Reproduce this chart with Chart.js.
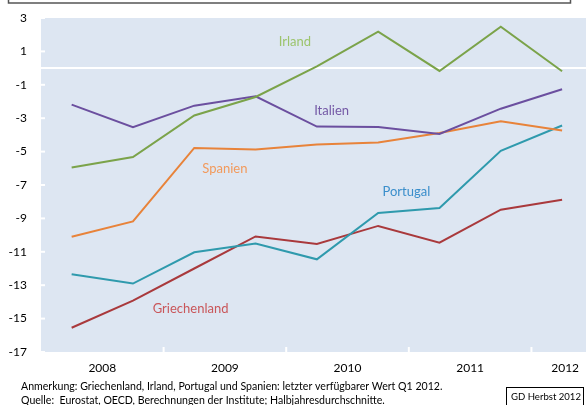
<!DOCTYPE html>
<html>
<head>
<meta charset="utf-8">
<script src="https://cdn.jsdelivr.net/npm/chart.js@4"></script>
<style>
  html, body { margin: 0; padding: 0; background: #fff; }
  #wrap { width: 586px; height: 405px; position: relative; }
</style>
</head>
<body>
<div id="wrap"><canvas id="chart"></canvas></div>
<script>
// half-year periods (position on the time axis, in years)
const periods = [2008.25, 2008.75, 2009.25, 2009.75, 2010.25, 2010.75, 2011.25, 2011.75, 2012.25];
const yearLabels = ["2008", "2009", "2010", "2011", "2012"];

const irland       = [-5.95, -5.33, -2.84, -1.73, 0.1, 2.18, -0.17, 2.48, -0.19];
const italien      = [-2.19, -3.54, -2.25, -1.69, -3.5, -3.52, -3.94, -2.43, -1.27];
const spanien      = [-10.1, -9.18, -4.78, -4.87, -4.58, -4.46, -3.88, -3.18, -3.74];
const portugal     = [-12.34, -12.9, -11.03, -10.5, -11.45, -8.68, -8.38, -4.95, -3.44];
const griechenland = [-15.55, -13.92, -12.0, -10.08, -10.53, -9.45, -10.45, -8.48, -7.88];

const noteLines = [
  "Anmerkung: Griechenland, Irland, Portugal und Spanien: letzter verfügbarer Wert Q1 2012.",
  "Quelle:  Eurostat, OECD, Berechnungen der Institute; Halbjahresdurchschnitte."
];
const stamp = "GD Herbst 2012";

const X_MIN = 2008, X_MAX = 2012.445;
const FONT = "Lato, 'Open Sans', sans-serif";

const series = [
  { name: "Irland",       data: irland,       line: "#7ba34a", text: "#9cc46c", at: [2010.07, 1.56] },
  { name: "Italien",      data: italien,      line: "#6b4f9f", text: "#7459a6", at: [2010.37, -2.58] },
  { name: "Spanien",      data: spanien,      line: "#e8833a", text: "#f29a5c", at: [2009.50, -6.03] },
  { name: "Portugal",     data: portugal,     line: "#2f9aad", text: "#3a8ecb", at: [2010.98, -7.40] },
  { name: "Griechenland", data: griechenland, line: "#a9393c", text: "#c9565a", at: [2009.22, -14.42] }
];

// plot background, zero line, inner tick marks
const backdrop = {
  id: "backdrop",
  beforeDatasetsDraw(chart) {
    const { ctx, chartArea: a, scales: { x, y } } = chart;
    ctx.save();
    ctx.fillStyle = "#dde6f2";
    ctx.fillRect(a.left, a.top, a.right - a.left, a.bottom - a.top);
    ctx.strokeStyle = "#ffffff";
    ctx.lineWidth = 2;
    const y0 = y.getPixelForValue(0);
    ctx.beginPath();
    ctx.moveTo(a.left, y0);
    ctx.lineTo(a.right, y0);
    ctx.stroke();
    for (let yr = 2009; yr <= 2012; yr++) {
      const px = x.getPixelForValue(yr);
      ctx.beginPath();
      ctx.moveTo(px, a.bottom);
      ctx.lineTo(px, a.bottom - 5);
      ctx.stroke();
    }
    y.ticks.forEach(t => {
      const py = y.getPixelForValue(t.value);
      ctx.beginPath();
      ctx.moveTo(a.left, py);
      ctx.lineTo(a.left + 4, py);
      ctx.stroke();
    });
    ctx.restore();
  }
};

// fit a text into a given width by shrinking the font
function fitFont(ctx, text, size, maxWidth) {
  ctx.font = size + "px " + FONT;
  const w = ctx.measureText(text).width;
  if (w > maxWidth) ctx.font = (size * maxWidth / w).toFixed(2) + "px " + FONT;
}

// series names, footnotes, boxes
const annotations = {
  id: "annotations",
  afterDraw(chart) {
    const { ctx, scales: { x, y } } = chart;
    ctx.save();
    ctx.font = "13px " + FONT;
    ctx.textAlign = "center";
    ctx.textBaseline = "middle";
    series.forEach(s => {
      ctx.fillStyle = s.text;
      ctx.fillText(s.name, x.getPixelForValue(s.at[0]), y.getPixelForValue(s.at[1]));
    });

    // bottom of the title frame
    ctx.strokeStyle = "#555";
    ctx.lineWidth = 1.5;
    ctx.beginPath();
    ctx.moveTo(8.5, -2);
    ctx.lineTo(8.5, 3);
    ctx.lineTo(570.5, 3);
    ctx.lineTo(570.5, -2);
    ctx.stroke();

    ctx.fillStyle = "#000";
    ctx.textAlign = "left";
    fitFont(ctx, noteLines[0], 10.8, 422);
    ctx.fillText(noteLines[0], 21, 387);
    ctx.fillText(noteLines[1], 21, 401);

    ctx.strokeStyle = "#000";
    ctx.lineWidth = 1;
    ctx.strokeRect(506.5, 387.5, 77, 20);
    fitFont(ctx, stamp, 11, 70);
    ctx.fillText(stamp, 511, 397);
    ctx.restore();
  }
};

new Chart(document.getElementById("chart"), {
  type: "line",
  data: {
    datasets: series.map(s => ({
      label: s.name,
      data: s.data.map((v, i) => ({ x: periods[i], y: v })),
      borderColor: s.line,
      borderWidth: 2,
      pointRadius: 0,
      tension: 0,
      fill: false
    }))
  },
  options: {
    responsive: true,
    maintainAspectRatio: false,
    animation: false,
    layout: { padding: { top: 18, right: 0, left: 0, bottom: 0 } },
    plugins: { legend: { display: false }, tooltip: { enabled: false } },
    scales: {
      x: {
        type: "linear",
        min: X_MIN,
        max: X_MAX,
        grid: { display: false, drawTicks: false },
        border: { display: false },
        afterBuildTicks(scale) {
          scale.ticks = yearLabels.map((l, i) => ({ value: Math.min(X_MIN + i + 0.5, X_MAX - 0.17) }));
        },
        afterFit(scale) {
          scale.height = 53;
          scale.paddingLeft = 0;
          scale.paddingRight = 0;
        },
        ticks: {
          autoSkip: false,
          maxRotation: 0,
          padding: 9,
          color: "#000",
          font: { family: FONT, size: 12 },
          callback: (v, i) => yearLabels[i]
        }
      },
      y: {
        min: -17,
        max: 3,
        grid: { display: false, drawTicks: false },
        border: { display: false },
        afterFit(scale) {
          scale.width = 41;
          scale.paddingTop = 0;
          scale.paddingBottom = 0;
        },
        ticks: {
          stepSize: 2,
          padding: 14,
          color: "#000",
          font: { family: FONT, size: 12 }
        }
      }
    }
  },
  plugins: [backdrop, annotations]
});
</script>
</body>
</html>
